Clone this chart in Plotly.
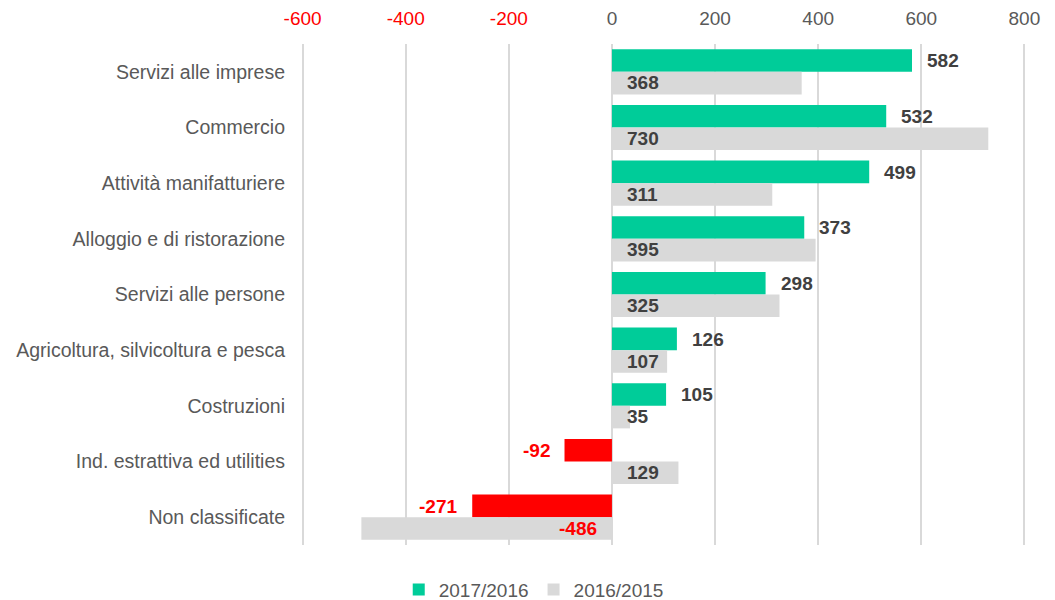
import plotly.graph_objects as go

categories = ["Servizi alle imprese", "Commercio", "Attività manifatturiere",
              "Alloggio e di ristorazione", "Servizi alle persone",
              "Agricoltura, silvicoltura e pesca", "Costruzioni",
              "Ind. estrattiva ed utilities", "Non classificate"]
v2017 = [582, 532, 499, 373, 298, 126, 105, -92, -271]
v2016 = [368, 730, 311, 395, 325, 107, 35, 129, -486]
tick_vals = [-600, -400, -200, 0, 200, 400, 600, 800]

GREEN = "#00CC99"
GRAY = "#D9D9D9"
RED = "#FF0000"
DARK = "#404040"
TXT = "#595959"
FONT = "Liberation Sans, Arial, sans-serif"
FS = 19

tick_text = [f'<span style="color:{RED}">{v}</span>' if v < 0 else str(v) for v in tick_vals]

fig = go.Figure()
fig.add_trace(go.Bar(
    y=categories, x=v2017, orientation="h", name="2017/2016",
    marker=dict(color=[GREEN if v >= 0 else RED for v in v2017], line=dict(width=0)),
    hoverinfo="x+y",
))
fig.add_trace(go.Bar(
    y=categories, x=v2016, orientation="h", name="2016/2015",
    marker=dict(color=GRAY, line=dict(width=0)),
    hoverinfo="x+y",
))

annotations = []
for c, v in zip(categories, v2017):
    annotations.append(dict(
        x=v, y=c, xref="x", yref="y", text=f"<b>{v}</b>", showarrow=False,
        xanchor="left" if v >= 0 else "right", xshift=13 if v >= 0 else -13,
        yshift=11, font=dict(family=FONT, size=FS, color=DARK if v >= 0 else RED),
    ))
for c, v in zip(categories, v2016):
    annotations.append(dict(
        x=0, y=c, xref="x", yref="y", text=f"<b>{v}</b>", showarrow=False,
        xanchor="left" if v >= 0 else "right", xshift=13 if v >= 0 else -13,
        yshift=-11, font=dict(family=FONT, size=FS, color=DARK if v >= 0 else RED),
    ))

fig.update_layout(
    width=1047, height=592,
    margin=dict(l=291, r=27, t=36, b=55, autoexpand=False),
    paper_bgcolor="white", plot_bgcolor="white",
    barmode="group", bargap=0.19, bargroupgap=0,
    font=dict(family=FONT, size=FS, color=TXT),
    showlegend=True,
    legend=dict(orientation="h", x=0.322, xanchor="center", y=-0.089, yanchor="middle",
                font=dict(family=FONT, size=FS, color=TXT),
                traceorder="normal", itemwidth=30),
    annotations=annotations,
    xaxis=dict(
        side="top", range=[-607, 807], tickvals=tick_vals, ticktext=tick_text,
        showgrid=True, gridcolor=GRAY, gridwidth=1.5, zeroline=False,
        showline=False, ticks="", ticklabelstandoff=14, automargin=False,
        tickfont=dict(family=FONT, size=FS, color=TXT),
    ),
    yaxis=dict(
        autorange="reversed", showgrid=False, zeroline=False, showline=False,
        ticks="", ticklabelstandoff=13, automargin=False,
        tickfont=dict(family=FONT, size=19.5, color=TXT),
    ),
)

fig.write_html("out.html")
